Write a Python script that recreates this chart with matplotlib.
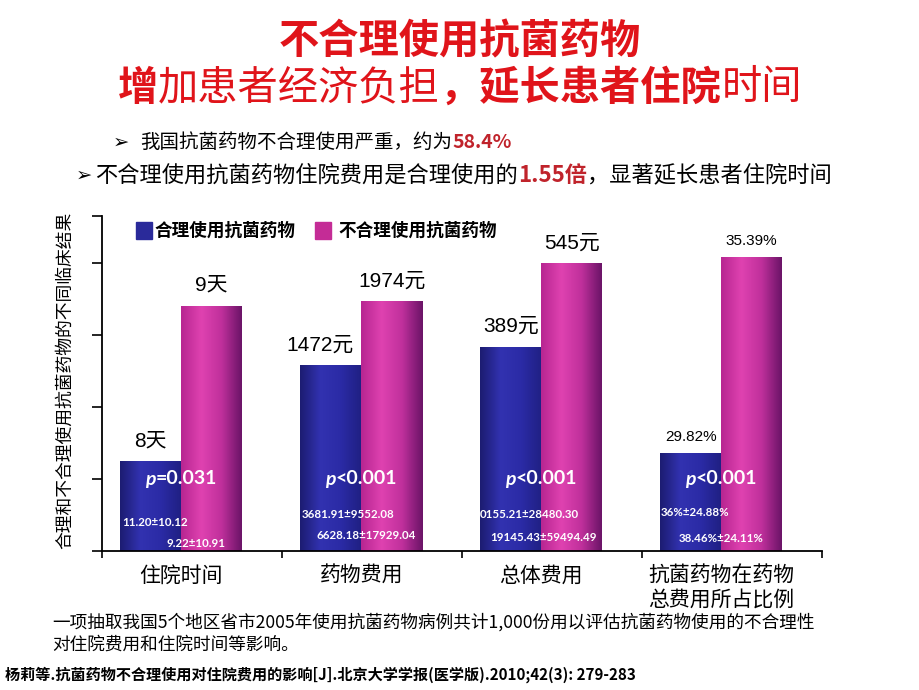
import matplotlib
matplotlib.use("Agg")
import matplotlib.pyplot as plt
import numpy as np
from matplotlib.colors import LinearSegmentedColormap
from matplotlib.patches import Rectangle

plt.rcParams['font.family'] = ['Noto Sans CJK SC', 'DejaVu Sans']

# ---- data ----
categories = ["住院时间", "药物费用", "总体费用", "抗菌药物在药物\n总费用所占比例"]
series_names = ["合理使用抗菌药物", "不合理使用抗菌药物"]
# bar heights as drawn on the slide (one y tick = 1 unit)
rational = [1.24, 2.57, 2.83, 1.36]
irrational = [3.40, 3.46, 3.99, 4.08]
rational_labels = ["8天", "1472元", "389元", "29.82%"]
irrational_labels = ["9天", "1974元", "545元", "35.39%"]
p_values = ["=0.031", "<0.001", "<0.001", "<0.001"]
rational_stats = ["11.20±10.12", "3681.91±9552.08", "0155.21±28480.30", "36%±24.88%"]
irrational_stats = ["9.22±10.91", "6628.18±17929.04", "19145.43±59494.49", "38.46%±24.11%"]

RED = "#e0141a"
DARKRED = "#c0232b"
W, H = 920, 690


def fx(px):
    return px / W


def fy(py):
    return 1 - py / H


def draw_runs(fig, x, y, runs, ha="left"):
    # draw text pieces one after another on a line (mixed colours / weights)
    r = fig.canvas.get_renderer()
    texts = [fig.text(0, y, s, va="center", **kw) for s, kw in runs]
    widths = [t.get_window_extent(r).width / fig.bbox.width for t in texts]
    pos = x - sum(widths) / 2 if ha == "center" else x
    for t, w in zip(texts, widths):
        t.set_x(pos)
        pos += w


fig = plt.figure(figsize=(9.2, 6.9), dpi=100)
fig.patch.set_facecolor("white")
ax = fig.add_axes([fx(102), 139 / H, 720 / W, 335 / H])

ymax = 335 / 72
x = np.arange(len(categories)) - 0.06
w = 61 / 180

blue_cmap = LinearSegmentedColormap.from_list("b", ["#1c1c72", "#3232b0", "#2b2ba6", "#202084"])
mag_cmap = LinearSegmentedColormap.from_list("m", ["#b82692", "#df42b0", "#c0309c", "#6c1468"])
grad = np.linspace(0, 1, 64).reshape(1, -1)

for i in range(len(categories)):
    ax.imshow(grad, extent=[x[i] - w, x[i], 0, rational[i]], cmap=blue_cmap,
              aspect="auto", zorder=2)
    ax.imshow(grad, extent=[x[i], x[i] + w, 0, irrational[i]], cmap=mag_cmap,
              aspect="auto", zorder=2)

ax.set_xlim(-0.5, 3.5)
ax.set_ylim(0, ymax)
for s in ["top", "right"]:
    ax.spines[s].set_visible(False)
for s in ["left", "bottom"]:
    ax.spines[s].set_linewidth(1.3)
    ax.spines[s].set_color("black")
ax.set_yticks([0, 1, 2, 3, 4, ymax])
ax.set_yticklabels([])
ax.set_xticks([-0.5, 0.5, 1.5, 2.5, 3.5])
ax.set_xticklabels([])
ax.tick_params(axis="y", length=7, width=1.2, direction="out")
ax.tick_params(axis="x", length=5, width=1.2, direction="out")

num_font = ["Liberation Sans", "Noto Sans CJK SC"]
label_dx = [0, -8, 0, 0]
for i in range(len(categories)):
    big = not rational_labels[i].endswith("%")
    fs = 15 if big else 11
    dy = 15 if big else 11.5
    ax.annotate(rational_labels[i], (x[i] - w / 2, rational[i]), xytext=(label_dx[i], dy),
                textcoords="offset points", ha="center", va="center", fontsize=fs, family=num_font)
    ax.annotate(irrational_labels[i], (x[i] + w / 2, irrational[i]), xytext=(0, dy),
                textcoords="offset points", ha="center", va="center", fontsize=fs, family=num_font)
    ax.text(x[i], -0.19, categories[i], ha="center", va="top", fontsize=15, linespacing=1.1)

# stats inside the bars
stat_font = ["Lato", "Liberation Sans", "DejaVu Sans"]
off1 = [2, 1, 0, 0]
off2 = [-15, -45, -51, -43]
row1 = [0.40, 0.50, 0.50, 0.53]
row2 = [0.11, 0.21, 0.19, 0.18]
for i in range(len(categories)):
    ax.text(x[i] - w + off1[i] / 180, row1[i], rational_stats[i], color="white", fontsize=8.3,
            weight="bold", family=stat_font, ha="left", va="center", zorder=3)
    ax.text(x[i] + off2[i] / 180, row2[i], irrational_stats[i], color="white", fontsize=8.3,
            weight="bold", family=stat_font, ha="left", va="center", zorder=3)

# p values
to_fig = ax.transData + fig.transFigure.inverted()
p_font = ["Lato", "Liberation Sans", "DejaVu Sans"]
for i in range(len(categories)):
    px, py = to_fig.transform((x[i], 1.0))
    draw_runs(fig, px, py, [
        ("p", dict(color="white", fontsize=14, weight="bold", style="italic", family=p_font)),
        (p_values[i], dict(color="white", fontsize=14, weight="bold", family=p_font)),
    ], ha="center")

# legend
fig.add_artist(Rectangle((fx(136), fy(239)), 16 / W, 17 / H, transform=fig.transFigure,
                         color="#2a2a9a"))
fig.text(fx(155), fy(231), series_names[0], fontsize=12.7, weight="bold", va="center")
fig.add_artist(Rectangle((fx(315), fy(239)), 16 / W, 17 / H, transform=fig.transFigure,
                         color="#c42c96"))
fig.text(fx(338), fy(231), series_names[1], fontsize=12.7, weight="bold", va="center")

# y label
fig.text(fx(65), fy(380), "合理和不合理使用抗菌药物的不同临床结果", rotation=90,
         ha="center", va="center", fontsize=12.8)

# title
draw_runs(fig, fx(460), fy(42), [("不合理使用抗菌药物", dict(color=RED, fontsize=29, weight="bold"))],
          ha="center")
draw_runs(fig, fx(460), fy(88), [
    ("增", dict(color=RED, fontsize=29, weight="bold")),
    ("加患者经济负担", dict(color=RED, fontsize=29, weight="medium")),
    ("，延长患者住院", dict(color=RED, fontsize=29, weight="bold")),
    ("时间", dict(color=RED, fontsize=29, weight="medium")),
], ha="center")

# bullets
fig.text(fx(113), fy(142), "➢", family="DejaVu Sans", fontsize=14, va="center")
draw_runs(fig, fx(140), fy(142), [
    ("我国抗菌药物不合理使用严重，约为", dict(color="black", fontsize=14)),
    ("58.4%", dict(color=DARKRED, fontsize=14, weight="bold")),
])
fig.text(fx(76), fy(175), "➢", family="DejaVu Sans", fontsize=14, va="center")
draw_runs(fig, fx(95), fy(175), [
    ("不合理使用抗菌药物住院费用是合理使用的", dict(color="black", fontsize=16)),
    ("1.55倍", dict(color=DARKRED, fontsize=16, weight="bold")),
    ("，显著延长患者住院时间", dict(color="black", fontsize=16)),
])

# footnotes
fig.text(fx(52), fy(622), "一项抽取我国5个地区省市2005年使用抗菌药物病例共计1,000份用以评估抗菌药物使用的不合理性",
         fontsize=12.7, va="center")
fig.text(fx(52), fy(645), "对住院费用和住院时间等影响。", fontsize=12.7, va="center")
fig.text(fx(5), fy(675), "杨莉等.抗菌药物不合理使用对住院费用的影响[J].北京大学学报(医学版).2010;42(3): 279-283",
         fontsize=10.9, weight="bold", va="center")

fig.savefig("out.png", dpi=100)
